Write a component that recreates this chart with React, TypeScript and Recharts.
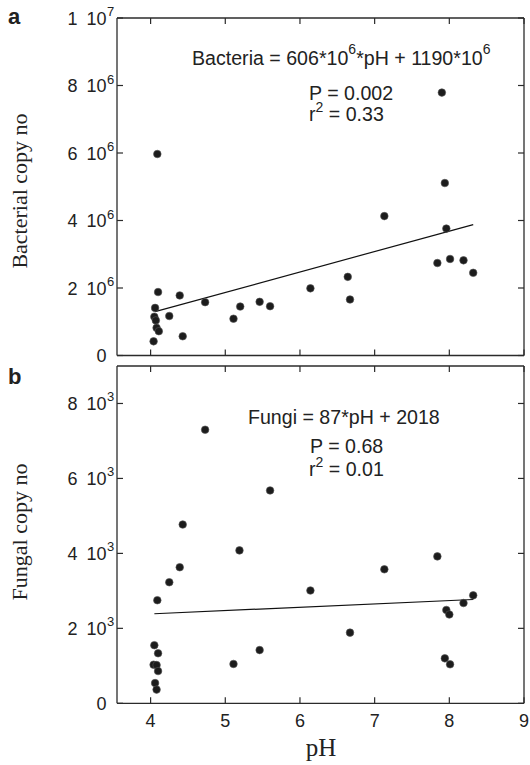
import { ReferenceLine, Scatter, ScatterChart, XAxis, YAxis } from "recharts"

// pH axis
const phTicks = [4, 5, 6, 7, 8, 9]

// panel a: bacterial copy number vs pH
const bacPh = [4.09, 7.94, 7.13, 7.96, 7.84, 8.01, 8.19, 8.32, 6.64, 6.67, 6.14, 5.6, 5.46, 5.2, 5.11, 4.73, 4.39, 4.1, 4.06, 4.05, 4.07, 4.25, 4.08, 4.11, 4.43, 4.04, 7.9]
const bacCopies = [5.97e6, 5.11e6, 4.13e6, 3.76e6, 2.74e6, 2.86e6, 2.82e6, 2.45e6, 2.33e6, 1.66e6, 1.99e6, 1.46e6, 1.59e6, 1.45e6, 1.09e6, 1.58e6, 1.78e6, 1.88e6, 1.41e6, 1.15e6, 1.04e6, 1.17e6, 0.82e6, 0.72e6, 0.57e6, 0.42e6, 7.79e6]
const bacFitPh = [4.06, 8.32]
const bacFitCopies = [1.3e6, 3.88e6]
const bacTicks = [0, 2e6, 4e6, 6e6, 8e6, 1e7]
const bacTickBase = ["0", "2\u200210", "4\u200210", "6\u200210", "8\u200210", "1\u200210"]
const bacTickExp = ["", "6", "6", "6", "6", "7"]

// panel b: fungal copy number vs pH
const fungiPh = [4.73, 5.6, 4.43, 5.19, 7.84, 4.39, 7.13, 4.25, 6.14, 4.09, 8.32, 8.19, 7.96, 8.0, 6.67, 5.46, 5.11, 7.94, 8.01, 4.05, 4.1, 4.04, 4.08, 4.1, 4.06, 4.08]
const fungiCopies = [7300, 5680, 4770, 4080, 3920, 3630, 3575, 3230, 3010, 2750, 2880, 2675, 2490, 2370, 1885, 1420, 1050, 1200, 1040, 1550, 1335, 1030, 1020, 860, 540, 365]
const fungiFitPh = [4.05, 8.32]
const fungiFitCopies = [2390, 2770]
const fungiTicks = [0, 2000, 4000, 6000, 8000]
const fungiTickBase = ["0", "2\u200210", "4\u200210", "6\u200210", "8\u200210"]
const fungiTickExp = ["", "3", "3", "3", "3"]

const AXIS = "#2b2b2b"
const SANS = "'Liberation Sans', Arial, sans-serif"
const SERIF = "'Liberation Serif', 'Times New Roman', serif"
const W = 530
const PLOT_RIGHT = 524

const XTick = (props: any) => {
  const { x, y, payload, plotTop, showLabel } = props
  return (
    <g>
      <line x1={x} x2={x} y1={y} y2={y - 6} stroke={AXIS} strokeWidth={1.2} />
      <line x1={x} x2={x} y1={plotTop} y2={plotTop + 6} stroke={AXIS} strokeWidth={1.2} />
      {showLabel && (
        <text x={x} y={y + 23.5} textAnchor="middle" fontSize={18} fill="#222" fontFamily={SANS}>
          {payload.value}
        </text>
      )}
    </g>
  )
}

const YTick = (props: any) => {
  const { x, y, index, base, exp } = props
  return (
    <g>
      <line x1={x} x2={x + 6} y1={y} y2={y} stroke={AXIS} strokeWidth={1.2} />
      <line x1={PLOT_RIGHT} x2={PLOT_RIGHT - 6} y1={y} y2={y} stroke={AXIS} strokeWidth={1.2} />
      <text x={x - 10.5} y={y + 6.5} textAnchor="end" fontSize={18} fill="#222" fontFamily={SANS}>
        {base[index]}
      </text>
      {exp[index] && (
        <text x={x - 10} y={y - 2} textAnchor="start" fontSize={13} fill="#222" fontFamily={SANS}>
          {exp[index]}
        </text>
      )}
    </g>
  )
}

const Dot = (p: any) => <circle cx={p.cx} cy={p.cy} r={3.8} fill="#1c1c1c" stroke="#555" strokeWidth={0.6} />
const NoDot = () => <g />

type PanelProps = {
  points: { x: number; y: number }[]
  fit: { x: number; y: number }[]
  yMax: number
  yTicks: number[]
  base: string[]
  exp: string[]
  height: number
  margin: { top: number; right: number; bottom: number; left: number }
  showXLabels: boolean
}

const Panel = ({ points, fit, yMax, yTicks, base, exp, height, margin, showXLabels }: PanelProps) => (
  <ScatterChart width={W} height={height} margin={margin}>
    <XAxis
      type="number"
      dataKey="x"
      domain={[3.55, 9]}
      ticks={phTicks}
      interval={0}
      height={1}
      tickSize={0}
      tickMargin={0}
      tickLine={false}
      axisLine={{ stroke: AXIS, strokeWidth: 1.3 }}
      tick={(p: any) => <XTick {...p} plotTop={margin.top} showLabel={showXLabels} />}
    />
    <YAxis
      type="number"
      dataKey="y"
      domain={[0, yMax]}
      ticks={yTicks}
      interval={0}
      width={1}
      tickSize={0}
      tickMargin={0}
      tickLine={false}
      axisLine={{ stroke: AXIS, strokeWidth: 1.3 }}
      tick={(p: any) => <YTick {...p} base={base} exp={exp} />}
    />
    <ReferenceLine y={yMax} stroke={AXIS} strokeWidth={1.3} />
    <ReferenceLine x={9} stroke={AXIS} strokeWidth={1.3} ifOverflow="visible" />
    <Scatter data={fit} line={{ stroke: "#111", strokeWidth: 1.2 }} shape={NoDot} isAnimationActive={false} />
    <Scatter data={points} shape={Dot} isAnimationActive={false} />
  </ScatterChart>
)

const App = () => {
  const bacPoints = bacPh.map((x, i) => ({ x, y: bacCopies[i] }))
  const bacFit = bacFitPh.map((x, i) => ({ x, y: bacFitCopies[i] }))
  const fungiPoints = fungiPh.map((x, i) => ({ x, y: fungiCopies[i] }))
  const fungiFit = fungiFitPh.map((x, i) => ({ x, y: fungiFitCopies[i] }))

  return (
    <div style={{ position: "absolute", left: 0, top: 0, width: W, height: 765, background: "#fff", overflow: "hidden" }}>
      <div style={{ position: "absolute", left: 0, top: 0 }}>
        <Panel
          points={bacPoints}
          fit={bacFit}
          yMax={1e7}
          yTicks={bacTicks}
          base={bacTickBase}
          exp={bacTickExp}
          height={365}
          margin={{ top: 18, right: 6, bottom: 8.5, left: 116 }}
          showXLabels={false}
        />
      </div>
      <div style={{ position: "absolute", left: 0, top: 360 }}>
        <Panel
          points={fungiPoints}
          fit={fungiFit}
          yMax={9000}
          yTicks={fungiTicks}
          base={fungiTickBase}
          exp={fungiTickExp}
          height={405}
          margin={{ top: 6, right: 6, bottom: 60.7, left: 116 }}
          showXLabels={true}
        />
      </div>

      {/* labels and equations */}
      <svg width={W} height={765} style={{ position: "absolute", left: 0, top: 0, pointerEvents: "none" }}>
        <g fontFamily={SANS} fill="#222">
          <text x={8} y={24} fontSize={22} fontWeight="bold">a</text>
          <text x={8} y={384} fontSize={22} fontWeight="bold">b</text>

          <text x={192} y={65} fontSize={19.6}>
            <tspan>Bacteria = 606*10</tspan>
            <tspan dy={-11} fontSize={14}>6</tspan>
            <tspan dy={11}>*pH + 1190*10</tspan>
            <tspan dy={-11} fontSize={14}>6</tspan>
          </text>
          <text x={309} y={99.5} fontSize={19.6}>P = 0.002</text>
          <text x={309} y={121} fontSize={19.6}>
            <tspan>r</tspan>
            <tspan dy={-9} fontSize={14}>2</tspan>
            <tspan dy={9}> = 0.33</tspan>
          </text>

          <text x={248} y={424} fontSize={19.6}>Fungi = 87*pH + 2018</text>
          <text x={310} y={453.3} fontSize={19.6}>P = 0.68</text>
          <text x={309} y={476.3} fontSize={19.6}>
            <tspan>r</tspan>
            <tspan dy={-9} fontSize={14}>2</tspan>
            <tspan dy={9}> = 0.01</tspan>
          </text>
        </g>
        <g fontFamily={SERIF} fill="#222">
          <text x={27} y={191} fontSize={22} textAnchor="middle" transform="rotate(-90 27 191)">Bacterial copy no</text>
          <text x={27} y={532} fontSize={22} textAnchor="middle" transform="rotate(-90 27 532)">Fungal copy no</text>
          <text x={321} y={756} fontSize={25} textAnchor="middle">pH</text>
        </g>
      </svg>
    </div>
  )
}

export default App
